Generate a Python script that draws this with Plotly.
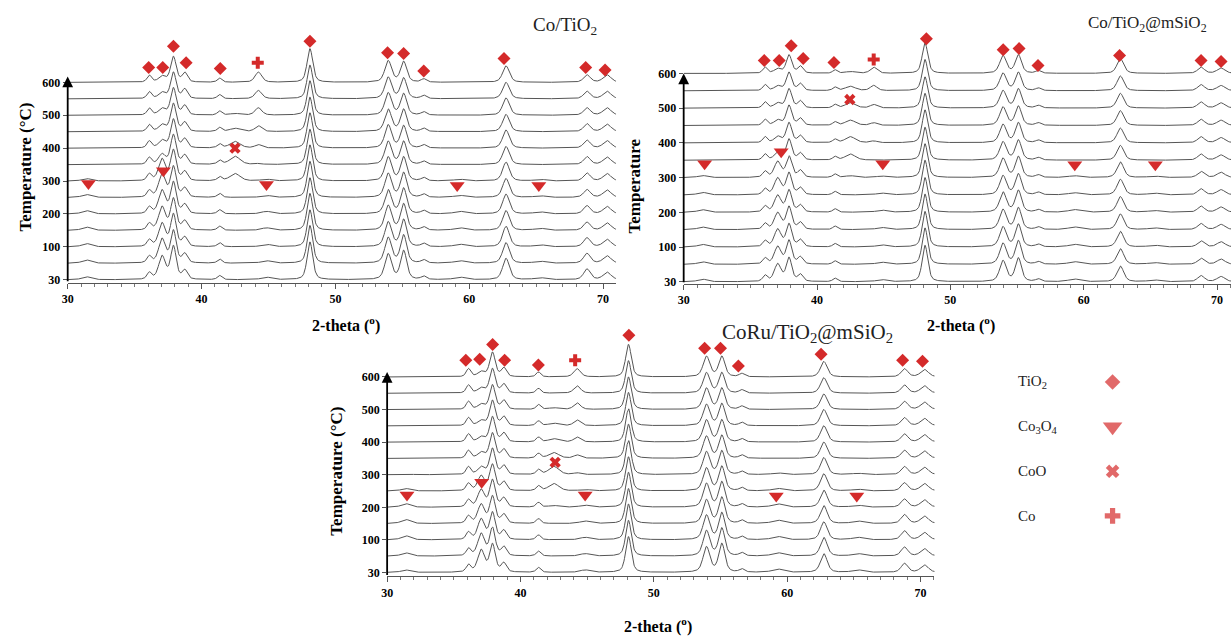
import numpy as np
import plotly.graph_objects as go

# ---------------- data ----------------
temps = [30, 50, 100, 150, 200, 250, 300, 350, 400, 450, 500, 550, 600]
tick_temps = [30, 100, 200, 300, 400, 500, 600]

peak_pos = [31.4, 36.1, 37.05, 37.9, 38.75, 41.35, 42.5, 44.25, 44.85, 48.1,
            53.95, 55.1, 56.6, 59.3, 62.75, 65.3, 68.8, 70.3]
peak_fwhm = [0.8, 0.4, 0.6, 0.5, 0.45, 0.4, 0.9, 0.6, 0.9, 0.5,
             0.6, 0.55, 0.45, 1.0, 0.6, 1.0, 0.6, 0.7]

# peak heights (in units of curve spacing), one row per peak, one column per temperature
co_tio2_heights = [
    [0.18, 0.2, 0.2, 0.2, 0.2, 0.18, 0.15, 0, 0, 0, 0, 0, 0],
    [0.4, 0.4, 0.4, 0.4, 0.4, 0.4, 0.4, 0.42, 0.42, 0.42, 0.42, 0.42, 0.42],
    [1.4, 1.45, 1.4, 1.4, 1.4, 1.4, 1.3, 0.6, 0.45, 0.4, 0.38, 0.36, 0.35],
    [2.0, 1.95, 1.95, 1.9, 1.9, 1.85, 1.85, 1.8, 1.75, 1.7, 1.65, 1.6, 1.55],
    [0.55, 0.55, 0.55, 0.55, 0.55, 0.55, 0.55, 0.55, 0.55, 0.55, 0.57, 0.57, 0.57],
    [0.25, 0.25, 0.25, 0.25, 0.25, 0.25, 0.25, 0.25, 0.25, 0.25, 0.25, 0.25, 0.25],
    [0, 0, 0, 0, 0, 0, 0.45, 0.5, 0.4, 0.2, 0.1, 0, 0],
    [0, 0, 0, 0, 0, 0, 0, 0.05, 0.2, 0.35, 0.45, 0.5, 0.62],
    [0.15, 0.15, 0.15, 0.15, 0.15, 0.12, 0.1, 0, 0, 0, 0, 0, 0],
    [2.3, 2.3, 2.25, 2.25, 2.2, 2.2, 2.2, 2.15, 2.15, 2.1, 2.1, 2.05, 2.05],
    [1.55, 1.55, 1.5, 1.5, 1.45, 1.45, 1.45, 1.4, 1.4, 1.35, 1.35, 1.3, 1.3],
    [1.75, 1.7, 1.65, 1.6, 1.55, 1.5, 1.45, 1.4, 1.35, 1.35, 1.3, 1.25, 1.25],
    [0.2, 0.2, 0.2, 0.2, 0.2, 0.2, 0.2, 0.2, 0.2, 0.2, 0.2, 0.2, 0.2],
    [0.15, 0.15, 0.15, 0.15, 0.15, 0.12, 0.1, 0, 0, 0, 0, 0, 0],
    [1.3, 1.25, 1.25, 1.2, 1.2, 1.15, 1.15, 1.1, 1.1, 1.05, 1.05, 1.0, 1.0],
    [0.12, 0.12, 0.12, 0.12, 0.12, 0.1, 0.1, 0, 0, 0, 0, 0, 0],
    [0.65, 0.6, 0.55, 0.5, 0.5, 0.48, 0.48, 0.48, 0.48, 0.48, 0.45, 0.45, 0.45],
    [0.45, 0.45, 0.45, 0.45, 0.45, 0.45, 0.45, 0.45, 0.45, 0.45, 0.45, 0.45, 0.45],
]

co_tio2_msio2_heights = [
    [0.15, 0.15, 0.15, 0.15, 0.15, 0.15, 0.12, 0, 0, 0, 0, 0, 0],
    [0.35, 0.35, 0.35, 0.35, 0.35, 0.35, 0.35, 0.35, 0.35, 0.35, 0.35, 0.35, 0.35],
    [1.0, 1.0, 1.0, 0.95, 0.95, 0.95, 0.9, 0.45, 0.35, 0.3, 0.28, 0.26, 0.25],
    [1.35, 1.35, 1.3, 1.3, 1.25, 1.25, 1.2, 1.2, 1.15, 1.15, 1.1, 1.05, 1.05],
    [0.4, 0.4, 0.4, 0.4, 0.4, 0.4, 0.4, 0.4, 0.4, 0.4, 0.4, 0.4, 0.4],
    [0.2, 0.2, 0.2, 0.2, 0.2, 0.2, 0.2, 0.2, 0.2, 0.2, 0.2, 0.2, 0.2],
    [0, 0, 0, 0, 0, 0, 0.1, 0.35, 0.35, 0.3, 0.3, 0.25, 0.1],
    [0, 0, 0, 0, 0, 0, 0, 0, 0.1, 0.15, 0.2, 0.3, 0.35],
    [0.12, 0.12, 0.12, 0.12, 0.12, 0.1, 0.08, 0, 0, 0, 0, 0, 0],
    [2.1, 2.1, 2.05, 2.05, 2.0, 2.0, 1.95, 1.9, 1.9, 1.85, 1.8, 1.8, 1.75],
    [1.2, 1.2, 1.15, 1.15, 1.15, 1.1, 1.1, 1.05, 1.05, 1.05, 1.0, 1.0, 1.0],
    [1.35, 1.35, 1.3, 1.25, 1.25, 1.2, 1.2, 1.15, 1.15, 1.1, 1.1, 1.05, 1.05],
    [0.15, 0.15, 0.15, 0.15, 0.15, 0.15, 0.15, 0.15, 0.15, 0.15, 0.15, 0.15, 0.15],
    [0.15, 0.15, 0.15, 0.15, 0.15, 0.12, 0.1, 0, 0, 0, 0, 0, 0],
    [0.9, 0.9, 0.9, 0.9, 0.9, 0.9, 0.9, 0.85, 0.85, 0.85, 0.85, 0.85, 0.85],
    [0.1, 0.1, 0.1, 0.1, 0.1, 0.1, 0.08, 0, 0, 0, 0, 0, 0],
    [0.35, 0.35, 0.35, 0.35, 0.35, 0.35, 0.35, 0.35, 0.35, 0.35, 0.35, 0.35, 0.35],
    [0.3, 0.3, 0.3, 0.3, 0.3, 0.3, 0.3, 0.3, 0.3, 0.3, 0.3, 0.3, 0.3],
]

coru_tio2_msio2_heights = [
    [0.15, 0.2, 0.25, 0.25, 0.22, 0.15, 0.05, 0, 0, 0, 0, 0, 0],
    [0.45, 0.45, 0.45, 0.45, 0.45, 0.45, 0.48, 0.48, 0.5, 0.5, 0.5, 0.5, 0.5],
    [1.35, 1.35, 1.25, 1.15, 1.05, 0.9, 0.45, 0.35, 0.3, 0.3, 0.3, 0.3, 0.3],
    [1.7, 1.7, 1.65, 1.65, 1.65, 1.6, 1.6, 1.55, 1.55, 1.55, 1.5, 1.5, 1.5],
    [0.55, 0.55, 0.55, 0.55, 0.55, 0.55, 0.55, 0.55, 0.55, 0.55, 0.55, 0.55, 0.55],
    [0.3, 0.3, 0.3, 0.3, 0.3, 0.3, 0.3, 0.3, 0.3, 0.3, 0.3, 0.3, 0.3],
    [0, 0, 0, 0, 0.1, 0.45, 0.5, 0.35, 0.2, 0.15, 0.1, 0, 0],
    [0, 0, 0, 0, 0, 0, 0.1, 0.2, 0.3, 0.35, 0.4, 0.45, 0.5],
    [0.15, 0.15, 0.15, 0.15, 0.12, 0.08, 0, 0, 0, 0, 0, 0, 0],
    [2.2, 2.2, 2.2, 2.15, 2.15, 2.1, 2.1, 2.1, 2.05, 2.05, 2.0, 2.0, 2.0],
    [1.55, 1.55, 1.5, 1.45, 1.45, 1.4, 1.4, 1.35, 1.35, 1.3, 1.3, 1.25, 1.25],
    [1.75, 1.7, 1.65, 1.6, 1.55, 1.5, 1.45, 1.4, 1.35, 1.35, 1.3, 1.25, 1.25],
    [0.2, 0.2, 0.2, 0.2, 0.2, 0.2, 0.2, 0.2, 0.2, 0.2, 0.2, 0.2, 0.2],
    [0.2, 0.2, 0.2, 0.2, 0.2, 0.15, 0.1, 0, 0, 0, 0, 0, 0],
    [1.15, 1.15, 1.1, 1.1, 1.05, 1.05, 1.05, 1.0, 1.0, 1.0, 0.95, 0.95, 0.95],
    [0.15, 0.15, 0.15, 0.15, 0.12, 0.1, 0.08, 0, 0, 0, 0, 0, 0],
    [0.55, 0.55, 0.55, 0.55, 0.5, 0.5, 0.5, 0.5, 0.5, 0.5, 0.5, 0.5, 0.5],
    [0.45, 0.45, 0.45, 0.45, 0.45, 0.45, 0.45, 0.45, 0.45, 0.45, 0.45, 0.45, 0.45],
]

# phase markers: 2-theta and vertical level (in curve-index units)
p1_tio2_x = [36.05, 37.1, 37.9, 38.85, 41.4, 48.1, 53.9, 55.1, 56.6, 62.6, 68.7, 70.15]
p1_tio2_y = [12.9, 12.9, 14.2, 13.2, 12.85, 14.5, 13.8, 13.75, 12.7, 13.45, 12.9, 12.75]
p1_co3o4_x = [31.55, 37.15, 44.85, 59.1, 65.2]
p1_co3o4_y = [5.85, 6.63, 5.79, 5.73, 5.73]
p1_coo_x = [42.5]
p1_coo_y = [8.0]
p1_co_x = [44.2]
p1_co_y = [13.2]

p2_tio2_x = [36.04, 37.16, 38.06, 38.96, 41.27, 48.2, 53.96, 55.15, 56.57, 62.69, 68.8, 70.3]
p2_tio2_y = [12.74, 12.74, 13.6, 12.86, 12.63, 14.0, 13.37, 13.43, 12.46, 13.03, 12.74, 12.69]
p2_co3o4_x = [31.57, 37.31, 44.93, 59.33, 65.37]
p2_co3o4_y = [6.8, 7.49, 6.8, 6.74, 6.74]
p2_coo_x = [42.46]
p2_coo_y = [10.5]
p2_co_x = [44.25]
p2_co_y = [12.8]

p3_tio2_x = [35.9, 36.94, 37.91, 38.81, 41.34, 48.13, 53.81, 55.0, 56.34, 62.54, 68.66, 70.15]
p3_tio2_y = [13.03, 13.09, 14.0, 13.03, 12.73, 14.56, 13.76, 13.76, 12.67, 13.4, 13.03, 12.97]
p3_co3o4_x = [31.49, 37.09, 44.85, 59.18, 65.22]
p3_co3o4_y = [4.75, 5.54, 4.75, 4.69, 4.69]
p3_coo_x = [42.6]
p3_coo_y = [6.76]
p3_co_x = [44.1]
p3_co_y = [13.03]

phase_names = ["TiO<sub>2</sub>", "Co<sub>3</sub>O<sub>4</sub>", "CoO", "Co"]

# ---------------- styling / layout ----------------
W, H = 1231, 637
RED = "#d42a2a"
LINE = "#555555"
SERIF = "Liberation Serif"
symbols = ["diamond", "triangle-down", "x", "cross"]
sizes = [10, 13, 10, 10]


def xdom(a, b):
    return [a / W, b / W]


def ydom(top, bottom):
    return [1 - bottom / H, 1 - top / H]


panels = [
    dict(title="Co/TiO<sub>2</sub>", tpos=(562, 26), tsize=19, heights=co_tio2_heights,
         px=(62, 613), pxdeg=13.45, base=282, sp=16.58, top=26, bot=285, arrow_top=77,
         ytitle="Temperature (°C)", ytpos=(20, 168), xtpos=(342, 327),
         marks=[(p1_tio2_x, p1_tio2_y), (p1_co3o4_x, p1_co3o4_y), (p1_coo_x, p1_coo_y), (p1_co_x, p1_co_y)]),
    dict(title="Co/TiO<sub>2</sub>@mSiO<sub>2</sub>", tpos=(1147, 24), tsize=17, heights=co_tio2_msio2_heights,
         px=(681, 1231), pxdeg=13.4, base=284, sp=17.5, top=26, bot=286, arrow_top=74,
         ytitle="Temperature", ytpos=(632, 187), xtpos=(960, 327),
         marks=[(p2_tio2_x, p2_tio2_y), (p2_co3o4_x, p2_co3o4_y), (p2_coo_x, p2_coo_y), (p2_co_x, p2_co_y)]),
    dict(title="CoRu/TiO<sub>2</sub>@mSiO<sub>2</sub>", tpos=(805, 336), tsize=21, heights=coru_tio2_msio2_heights,
         px=(383, 933), pxdeg=13.4, base=577, sp=16.42, top=328, bot=581, arrow_top=375,
         ytitle="Temperature (°C)", ytpos=(332, 475), xtpos=(655, 630),
         marks=[(p3_tio2_x, p3_tio2_y), (p3_co3o4_x, p3_co3o4_y), (p3_coo_x, p3_coo_y), (p3_co_x, p3_co_y)]),
]

theta = np.arange(30.0, 71.2, 0.04)


def profile(heights, t_index):
    y = np.zeros_like(theta)
    for k, (pos, w) in enumerate(zip(peak_pos, peak_fwhm)):
        h = heights[k][t_index]
        if h == 0:
            continue
        t = 2.0 * (theta - pos) / w
        y += h * (0.5 / (1 + t * t) + 0.5 * np.exp(-np.log(2) * t * t))
    return y


fig = go.Figure()
annotations = []
layout_axes = {}

for i, p in enumerate(panels, start=1):
    xa = "x" if i == 1 else f"x{i}"
    ya = "y" if i == 1 else f"y{i}"
    xr0 = 30.0
    xr1 = 30.0 + (p["px"][1] - p["px"][0]) / p["pxdeg"]
    yr0 = -(p["bot"] - p["base"]) / p["sp"]
    yr1 = (p["base"] - p["top"]) / p["sp"]

    for ti in range(len(temps)):
        fig.add_trace(go.Scatter(
            x=theta, y=profile(p["heights"], ti) + ti, xaxis=xa, yaxis=ya,
            mode="lines", line=dict(color=LINE, width=1), hoverinfo="skip", showlegend=False))

    for (mx, my), sym, sz in zip(p["marks"], symbols, sizes):
        fig.add_trace(go.Scatter(
            x=mx, y=my, xaxis=xa, yaxis=ya, mode="markers", cliponaxis=False,
            marker=dict(symbol=sym, size=sz, color=RED, line=dict(width=0)),
            showlegend=False, hoverinfo="skip"))

    xkey = "xaxis" if i == 1 else f"xaxis{i}"
    ykey = "yaxis" if i == 1 else f"yaxis{i}"
    layout_axes[xkey] = dict(
        domain=xdom(*p["px"]), range=[xr0, xr1], anchor=ya,
        showline=True, linecolor="#555", linewidth=1, showgrid=False, zeroline=False,
        ticks="outside", ticklen=5, tickcolor="#555", tick0=0, dtick=10,
        minor=dict(ticks="outside", ticklen=3, dtick=1, tickcolor="#777"),
        tickfont=dict(family=SERIF, size=12, color="black", weight="bold"))
    layout_axes[ykey] = dict(
        domain=ydom(p["top"], p["bot"]), range=[yr0, yr1], anchor=xa,
        showline=False, showgrid=False, zeroline=False,
        ticks="outside", ticklen=4, tickcolor="#555",
        tickvals=[temps.index(t) for t in tick_temps], ticktext=[str(t) for t in tick_temps],
        tickfont=dict(family=SERIF, size=12, color="black", weight="bold"))

    # vertical axis drawn as an arrow
    arrow_top = (p["base"] - p["arrow_top"]) / p["sp"]
    annotations.append(dict(
        x=30, y=arrow_top, ax=30, ay=yr0, xref=xa, yref=ya, axref=xa, ayref=ya,
        text="", showarrow=True, arrowhead=2, arrowsize=1.2, arrowwidth=1.8, arrowcolor="black"))

    # titles
    annotations.append(dict(
        x=p["tpos"][0] / W, y=1 - p["tpos"][1] / H, xref="paper", yref="paper",
        text=p["title"], showarrow=False, xanchor="center", yanchor="middle",
        font=dict(family=SERIF, size=p["tsize"], color="#222")))
    annotations.append(dict(
        x=p["xtpos"][0] / W, y=1 - p["xtpos"][1] / H, xref="paper", yref="paper",
        text="2-theta (<sup>o</sup>)", showarrow=False, xanchor="center", yanchor="middle",
        font=dict(family=SERIF, size=16, color="black", weight="bold")))
    annotations.append(dict(
        x=p["ytpos"][0] / W, y=1 - p["ytpos"][1] / H, xref="paper", yref="paper",
        text=p["ytitle"], showarrow=False, textangle=-90, xanchor="center", yanchor="middle",
        font=dict(family=SERIF, size=17, color="black", weight="bold")))

# legend drawn on a hidden axis pair
leg_idx = [0, 1, 2, 3]
fig.add_trace(go.Scatter(
    x=[0.5] * 4, y=leg_idx, xaxis="x4", yaxis="y4", mode="markers", cliponaxis=False,
    marker=dict(symbol=symbols, size=[12, 17, 12, 13], color=RED, line=dict(width=0)),
    showlegend=False, hoverinfo="skip"))
layout_axes["xaxis4"] = dict(domain=xdom(1100, 1124), range=[0, 1], visible=False, anchor="y4")
layout_axes["yaxis4"] = dict(domain=ydom(370, 535), range=[3 + 15 / 45, -15 / 45], visible=False, anchor="x4")
for k, name in enumerate(phase_names):
    annotations.append(dict(
        x=1015 / W, y=leg_idx[k], xref="paper", yref="y4", text=name, showarrow=False,
        xanchor="left", yanchor="middle", font=dict(family=SERIF, size=15, color="#222")))

fig.update_layout(
    width=W, height=H, margin=dict(l=0, r=0, t=0, b=0),
    paper_bgcolor="white", plot_bgcolor="rgba(0,0,0,0)",
    annotations=annotations, **layout_axes)

fig.write_html("out.html", config={"displayModeBar": False},
               post_script="document.body.style.margin='0';document.body.style.overflow='hidden';")
